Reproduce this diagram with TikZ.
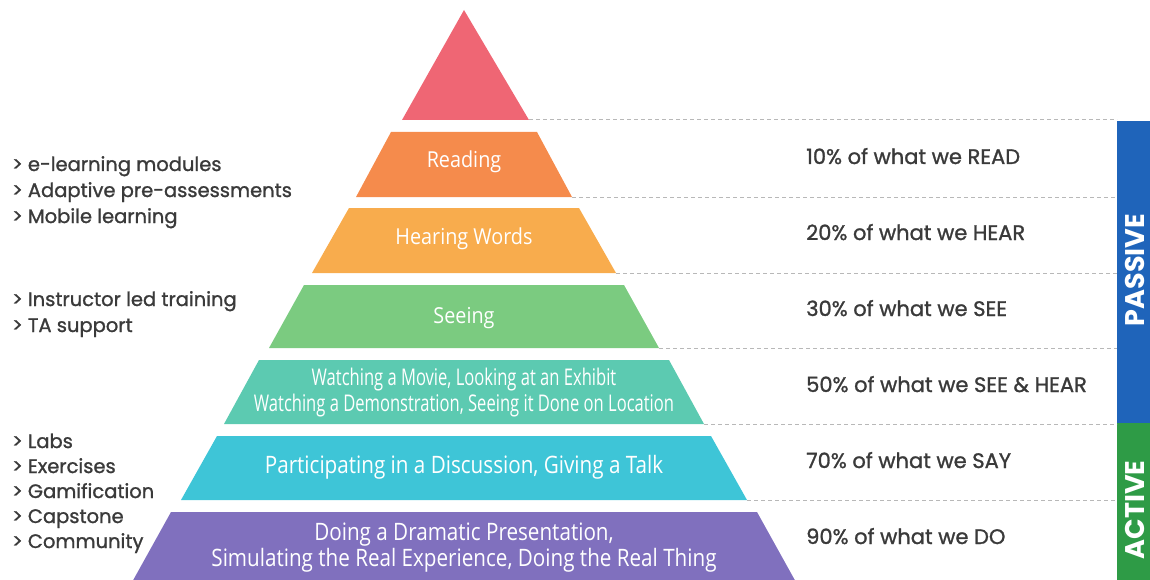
\documentclass[tikz,border=0pt]{standalone}
\usepackage{fontspec}
\setmainfont{Poppins}
\newfontfamily\medfont[FakeBold=1.2]{Poppins}
\newfontfamily\labfont[FakeStretch=0.9]{Open Sans}
\newfontfamily\condfont[FakeStretch=0.72]{Open Sans}
\newfontfamily\semifont[FakeStretch=0.86]{Open Sans}
\definecolor{ctop}{HTML}{EF6674}
\definecolor{cread}{HTML}{F58B4C}
\definecolor{chear}{HTML}{F8AC4D}
\definecolor{csee}{HTML}{7BCB80}
\definecolor{cwatch}{HTML}{5CCAB1}
\definecolor{cpart}{HTML}{3EC5D7}
\definecolor{cdo}{HTML}{8070BE}
\definecolor{cpass}{HTML}{1F64BA}
\definecolor{cact}{HTML}{2E9B46}
\definecolor{ctxt}{HTML}{3A3A3A}
\definecolor{cdash}{HTML}{B8B8B8}
\tikzset{
  sidetext/.style={anchor=base west, inner sep=0pt, text=ctxt, font=\medfont\fontsize{19.5}{22}\selectfont},
  pcttext/.style={anchor=base west, inner sep=0pt, text=ctxt, font=\medfont\fontsize{21}{24}\selectfont},
  laytext/.style={inner sep=0pt, text=white, font=\labfont\fontsize{22}{26}\selectfont},
  condtext/.style={inner sep=0pt, text=white, align=center, font=\condfont\fontsize{23}{26}\selectfont},
  semitext/.style={inner sep=0pt, text=white, align=center, font=\semifont\fontsize{24}{26}\selectfont},
  sepline/.style={draw=cdash, line width=1pt, dash pattern=on 4pt off 3pt},
  bartext/.style={rotate=90, inner sep=0pt, text=white, font=\bfseries\fontsize{27}{32}\selectfont}
}
\begin{document}
\begin{tikzpicture}[x=1pt,y=-1pt]
\useasboundingbox (0,0) rectangle (1150,580);
\begin{scope}
\clip (0,0) rectangle (1150,580);
% pyramid
\fill[ctop] (464,10) -- (529,120) -- (402,120) -- cycle;
\coordinate (e0) at (529,120);
\fill[cread] (391,132) -- (537,132) -- (572,197) -- (356,197) -- cycle;
\coordinate (e1) at (572,197);
\fill[chear] (349,208) -- (579,208) -- (616,273) -- (312,273) -- cycle;
\coordinate (e2) at (616,273);
\fill[csee] (304,285) -- (624,285) -- (659,348) -- (269,348) -- cycle;
\coordinate (e3) at (659,348);
\fill[cwatch] (259,360) -- (669,360) -- (704,424) -- (224,424) -- cycle;
\coordinate (e4) at (704,424);
\fill[cpart] (217,436) -- (711,436) -- (747,500) -- (181,500) -- cycle;
\coordinate (e5) at (747,500);
\fill[cdo] (171,512) -- (757,512) -- (797,584) -- (131,584) -- cycle;
% side bars
\fill[cpass] (1117,121) rectangle (1150,423);
\fill[cact] (1117,423) rectangle (1150,580);
\end{scope}
\coordinate (b0) at (1117,120);
\coordinate (b1) at (1117,197);
\coordinate (b2) at (1117,273);
\coordinate (b3) at (1117,348);
\coordinate (b4) at (1117,424);
\coordinate (b5) at (1117,500);
\foreach \i in {0,...,5} { \draw[sepline] (e\i) -- (b\i); }
% bar labels
\node[bartext] (passive) at (1134.5,270) {PASSIVE};
\node[bartext] (active) at (1134.5,510) {ACTIVE};
% layer labels
\node[laytext] (reading) at (464,162) {Reading};
\node[laytext] (hearing) at (464,239) {Hearing Words};
\node[laytext] (seeing) at (464,318) {Seeing};
\node[condtext] (watching) at (464,393) {Watching a Movie, Looking at an Exhibit\\Watching a Demonstration, Seeing it Done on Location};
\node[semitext] (partic) at (464,467) {Participating in a Discussion, Giving a Talk};
\node[semitext] (doing) at (464,548) {Doing a Dramatic Presentation,\\Simulating the Real Experience, Doing the Real Thing};
% right percentages
\node[pcttext] (p10) at (806,164) {10\% of what we READ};
\node[pcttext] (p20) at (806,240) {20\% of what we HEAR};
\node[pcttext] (p30) at (806,316) {30\% of what we SEE};
\node[pcttext] (p50) at (806,392) {50\% of what we SEE \& HEAR};
\node[pcttext] (p70) at (806,468) {70\% of what we SAY};
\node[pcttext] (p90) at (806,544) {90\% of what we DO};
% left lists
\node[sidetext] (l1) at (12,171) {> e-learning modules};
\node[sidetext] (l2) at (12,197) {> Adaptive pre-assessments};
\node[sidetext] (l3) at (12,223) {> Mobile learning};
\node[sidetext] (l4) at (12,306) {> Instructor led training};
\node[sidetext] (l5) at (12,332) {> TA support};
\node[sidetext] (l6) at (12,448) {> Labs};
\node[sidetext] (l7) at (12,473) {> Exercises};
\node[sidetext] (l8) at (12,498) {> Gamification};
\node[sidetext] (l9) at (12,523) {> Capstone};
\node[sidetext] (l10) at (12,548) {> Community};
\end{tikzpicture}
\end{document}
